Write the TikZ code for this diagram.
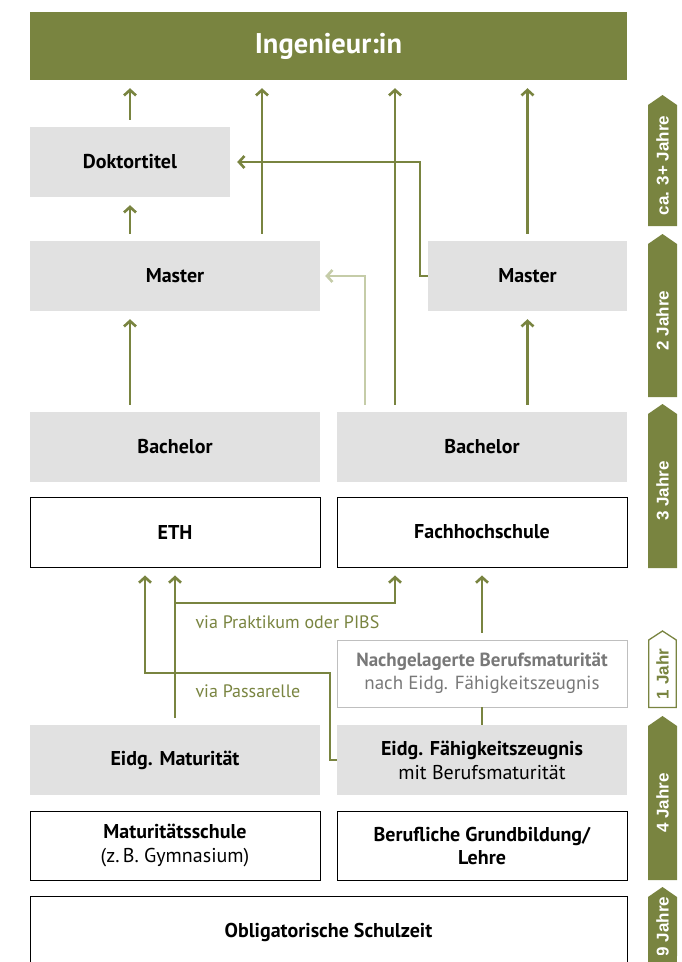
\documentclass[tikz,border=0pt]{standalone}
\usepackage{fontspec}
\setmainfont{PT Sans}
\newfontfamily\barfont{Liberation Sans}
\usetikzlibrary{arrows.meta}
\definecolor{ethgreen}{RGB}{121,132,64}
\definecolor{palegreen}{RGB}{197,204,168}
\definecolor{boxgrey}{RGB}{225,225,225}
\definecolor{softgrey}{RGB}{120,120,120}
\begin{document}
\begin{tikzpicture}[x=1pt, y=-1pt,
    box/.style={minimum width=290pt, minimum height=70pt, inner sep=0pt, align=center,
        font=\fontsize{20}{23}\selectfont\bfseries},
    greybox/.style={box, fill=boxgrey},
    whitebox/.style={box, draw=black, line width=0.9pt},
    link/.style={draw=ethgreen, line width=2.6pt, shorten >=8pt, shorten <=7pt,
        -{Straight Barb[length=5.5pt,width=12pt]}},
    plain/.style={draw=ethgreen, line width=2.6pt},
    via/.style={text=ethgreen, anchor=west, font=\fontsize{18}{21}\selectfont},
    yearbar/.style={text=white, rotate=90, font=\barfont\fontsize{17}{20}\selectfont\bfseries}]
    \useasboundingbox (0,0) rectangle (681,962);

    % Ziel
    \node[fill=ethgreen, minimum width=597pt, minimum height=68pt, text=white,
        font=\fontsize{28.5}{33}\selectfont\bfseries] (ing) at (328.5,46) {Ingenieur:in};

    % Hochschulstufe
    \node[greybox, minimum width=200pt] (doktor) at (130,162) {Doktortitel};
    \node[greybox] (masterL) at (175,276) {Master};
    \node[greybox, minimum width=199pt] (masterR) at (527.5,276) {Master};
    \node[greybox] (bachL) at (175,447) {Bachelor};
    \node[greybox] (bachR) at (482,447) {Bachelor};
    \node[whitebox] (eth) at (175,532) {ETH};
    \node[whitebox] (fh) at (482,532) {Fachhochschule};

    % Zugang
    \node[box, draw=black!25, line width=0.9pt, minimum height=67pt, text=softgrey,
        font=\fontsize{19}{22}\selectfont\bfseries] (nach) at (482,673.5)
        {Nachgelagerte Berufsmaturit\"at\\[1pt]{\mdseries nach Eidg. F\"ahigkeitszeugnis}};
    \node[greybox] (matur) at (175,760) {Eidg. Maturit\"at};
    \node[greybox] (efz) at (482,760) {Eidg. F\"ahigkeitszeugnis\\[1pt]{\mdseries mit Berufsmaturit\"at}};
    \node[whitebox, minimum height=69pt] (mschule) at (175,845.5) {Maturit\"atsschule\\[1pt]{\mdseries (z.\,B. Gymnasium)}};
    \node[whitebox, minimum height=69pt] (beruf) at (482,845.5) {Berufliche Grundbildung/\\Lehre};
    \node[whitebox, minimum width=597pt, minimum height=72pt] (oblig) at (328.5,932) {Obligatorische Schulzeit};

    % Pfeile nach oben
    \draw[link] (doktor.north) -- (doktor.north |- ing.south);
    \draw[link] ([xshift=87pt]masterL.north) -- ([xshift=87pt]masterL.north |- ing.south);
    \draw[link] ([xshift=-87pt]bachR.north) -- ([xshift=-87pt]bachR.north |- ing.south);
    \draw[link] (masterR.north) -- (masterR.north |- ing.south);
    \draw[link] (doktor.south |- masterL.north) -- (doktor.south);
    \draw[link] ([xshift=-45pt]bachL.north) -- ([xshift=-45pt]masterL.south);
    \draw[link] (masterR.south |- bachR.north) -- (masterR.south);
    \draw[link, shorten <=0pt, shorten >=7pt] (masterR.west) -- ++(-8,0) |- (doktor.east);
    \draw[link, draw=palegreen, shorten >=5pt] ([xshift=-117pt]bachR.north) |- (masterL.east);

    % Wege zur Hochschule
    \coordinate (split) at (175,603);
    \coordinate (pbend) at (330,673);
    \draw[link] (matur.north) -- (eth.south);
    \draw[link, shorten <=0pt] (split) -| ([xshift=-87pt]fh.south);
    \draw[link, shorten <=0pt] (efz.west) -| (pbend) -| ([xshift=-30pt]eth.south);
    \draw[link] (nach.north) -- (fh.south);
    \draw[plain] (efz.north) -- (nach.south);
    \node[via] (praktikum) at (192,622) {via Praktikum oder PIBS};
    \node[via] (passarelle) at (192,691) {via Passarelle};

    % Dauer
    \foreach \top/\bot/\txt in {95/226/ca. 3+ Jahre, 234/397/2 Jahre, 404/568/3 Jahre,
        716/880/4 Jahre, 887/956/9 Jahre} {
        \fill[ethgreen] (648,\top+10) -- (662.5,\top) -- (677,\top+10) -- (677,\bot) -- (648,\bot) -- cycle;
        \node[yearbar] at (662.5,{(\top+\bot)/2+5}) {\txt};
    }
    \fill[ethgreen] (648,955) rectangle (677,975);
    \draw[ethgreen, line width=1.3pt, fill=white] (648.7,640) -- (662.5,631) -- (676.3,640)
        -- (676.3,707.5) -- (648.7,707.5) -- cycle;
    \node[yearbar, text=ethgreen] (einjahr) at (662.5,674) {1 Jahr};
\end{tikzpicture}
\end{document}
